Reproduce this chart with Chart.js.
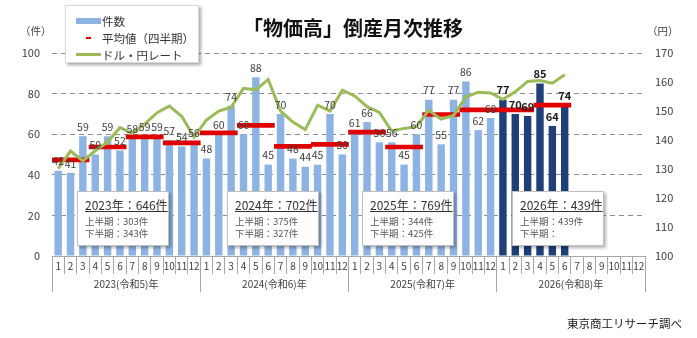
<!DOCTYPE html>
<html><head><meta charset="utf-8">
<script src="https://cdn.jsdelivr.net/npm/chart.js@4.4.1/dist/chart.umd.min.js"></script>
<style>
body{margin:0;background:#fff;font-family:"Noto Sans CJK JP","Noto Sans",sans-serif;color:#333;}
#wrap{position:relative;width:697px;height:338px;overflow:hidden;}
#c{position:absolute;left:0;top:0;}
.ttl{position:absolute;left:243px;top:16px;font-size:20px;font-weight:bold;color:#111;white-space:nowrap;line-height:24px;}
.unit{position:absolute;top:23px;font-size:10.5px;color:#404040;line-height:16px;}
.lg{position:absolute;left:65px;top:5px;width:132px;height:56px;background:#fff;border:1px solid #d9d9d9;box-shadow:2px 2px 3px rgba(0,0,0,.35);font-size:11.5px;color:#333;}
.lg div{position:absolute;left:36px;line-height:16px;white-space:nowrap;}
.lg i{position:absolute;display:block;}
.box{position:absolute;top:191px;width:90px;height:53px;background:#fff;border:1px solid #bfbfbf;box-shadow:2px 2px 3px rgba(0,0,0,.3);}
.box .t{position:absolute;left:7px;top:5px;font-size:12px;text-decoration:underline;color:#333;white-space:nowrap;line-height:16px;}
.box .s{position:absolute;left:7px;font-size:9.5px;color:#595959;white-space:nowrap;line-height:12px;}
.src{position:absolute;left:567px;top:315px;font-size:11.5px;color:#222;white-space:nowrap;line-height:16px;}
</style></head><body>
<div id="wrap">
<canvas id="c" width="697" height="338"></canvas>
<div class="ttl">「物価高」倒産月次推移</div>
<div class="unit" style="left:20px">（件）</div>
<div class="unit" style="left:647px">（円）</div>
<div class="lg">
  <i style="left:10px;top:12px;width:25px;height:6px;background:#8db3e2"></i><div style="top:7px">件数</div>
  <i style="left:20px;top:31px;width:5px;height:2px;background:#e00000"></i><div style="top:24px">平均値（四半期）</div>
  <i style="left:10px;top:47px;width:25px;height:3px;background:#9bbb59"></i><div style="top:41px">ドル・円レート</div>
</div>
<div id="boxes"></div>
<div class="src">東京商工リサーチ調べ</div>
</div>
<script>
// months / years on the category axes
const monthTicks=['1','2','3','4','5','6','7','8','9','10','11','12'];
const yearTicks=['2023(令和5)年','2024(令和6)年','2025(令和7)年','2026(令和8)年'];
const leftTicks=[0,20,40,60,80,100];
const rightTicks=[100,110,120,130,140,150,160,170];

// monthly bankruptcies 2023/1 - 2026/6
const counts=[42,41,59,50,59,52,58,59,59,57,54,56,
              48,60,74,60,88,45,70,48,44,45,70,50,
              61,66,56,56,45,60,77,55,77,86,62,68,
              77,70,69,85,64,74];
// quarterly average (red bars)
const quarterAvg=[47.3,53.7,58.7,55.7, 60.7,64.3,54.0,55.0, 61.0,53.7,69.7,72.0, 72.0,74.3];
// USD/JPY (right axis)
const usdJpy=[130.1,136.2,132.8,136.3,139.3,144.3,142.3,145.5,149.4,151.7,148.2,141.0,
              146.9,150.0,151.3,157.8,157.3,160.9,150.0,146.2,143.6,152.0,150.0,157.2,
              155.2,151.5,149.5,143.1,144.0,144.6,150.2,147.2,148.5,154.8,156.5,156.2,
              154.0,156.6,160.2,160.5,159.6,162.5];

// yearly summary boxes
const yearNames=['2023','2024','2025','2026'];
const yearTotals=[646,702,769,439];
const firstHalf=[303,375,344,439];
const secondHalf=[343,327,425,null];
const boxLeft=[77,227,362,512];

const labels=yearTicks.flatMap(()=>monthTicks);
const quarterLabels=yearTicks.flatMap(y=>['Q1','Q2','Q3','Q4'].map(q=>y+q));
const LIGHT='#8db3e2', DARK='#1f3f78';
const FONT='"Noto Sans CJK JP","Noto Sans",sans-serif';

const barLabels={
  id:'barLabels',
  afterDatasetsDraw(chart){
    const meta=chart.getDatasetMeta(0), ctx=chart.ctx;
    ctx.save();
    ctx.textAlign='center'; ctx.textBaseline='bottom';
    meta.data.forEach((el,i)=>{
      const v=counts[i]; if(v==null) return;
      const cur=i>=36;
      ctx.font=(cur?'bold 11px ':'10.5px ')+FONT;
      ctx.fillStyle=cur?'#1a1a1a':'#404040';
      ctx.fillText(String(v),el.x,el.y-4);
    });
    ctx.restore();
  }
};

// month labels sit between the separators, years below them
const axisText={
  id:'axisText',
  afterDraw(chart){
    const ctx=chart.ctx, x=chart.scales.x, xy=chart.scales.xy;
    ctx.save();
    ctx.fillStyle='#404040'; ctx.textAlign='center'; ctx.textBaseline='middle';
    ctx.font='10px '+FONT;
    labels.forEach((l,i)=>ctx.fillText(l,x.getPixelForValue(i),x.top+10));
    yearTicks.forEach((l,i)=>ctx.fillText(l,xy.getPixelForValue(i),xy.top+11));
    ctx.restore();
  }
};

new Chart(document.getElementById('c'),{
  data:{
    labels,
    datasets:[
      {type:'bar',label:'件数',data:labels.map((_,i)=>counts[i]??null),
       backgroundColor:labels.map((_,i)=>i>=36?DARK:LIGHT),
       barPercentage:0.6,categoryPercentage:1,grouped:false,order:3,xAxisID:'x',yAxisID:'y'},
      {type:'bar',label:'平均値（四半期）',data:quarterLabels.map((_,i)=>quarterAvg[i]==null?null:[quarterAvg[i]-1,quarterAvg[i]+1]),
       backgroundColor:'#e00000',barPercentage:1,categoryPercentage:1,grouped:false,order:2,xAxisID:'xq',yAxisID:'y'},
      {type:'line',label:'ドル・円レート',data:labels.map((_,i)=>usdJpy[i]??null),
       borderColor:'#9bbb59',borderWidth:3,pointRadius:0,tension:0,order:1,xAxisID:'x',yAxisID:'y1'}
    ]
  },
  options:{
    responsive:false,animation:false,
    layout:{padding:{top:53,bottom:46,left:0,right:0}},
    plugins:{legend:{display:false},tooltip:{enabled:false}},
    scales:{
      x:{type:'category',position:'bottom',weight:0,offset:true,
         grid:{drawOnChartArea:false,offset:true,tickLength:18,color:'#a6a6a6',lineWidth:1},
         border:{display:true,color:'#a6a6a6'},
         ticks:{display:false},
         afterFit(s){s.height=17;}},
      xy:{type:'category',position:'bottom',weight:1,offset:true,labels:yearTicks,
         grid:{drawOnChartArea:false,offset:true,tickLength:19,color:'#a6a6a6',lineWidth:1},
         border:{display:false},
         ticks:{display:false},
         afterFit(s){s.height=19;}},
      xq:{type:'category',labels:quarterLabels,offset:true,display:false},
      y:{position:'left',min:leftTicks[0],max:leftTicks[leftTicks.length-1],
         afterBuildTicks(s){s.ticks=leftTicks.map(v=>({value:v}));},
         afterFit(s){s.width=52;},
         grid:{color:c=>c.tick&&c.tick.value===0?'rgba(0,0,0,0)':'#8c8c8c',drawTicks:false,lineWidth:1},
         border:{display:false,dash:[5,4]},
         ticks:{font:{family:FONT,size:11},color:'#404040',padding:12}},
      y1:{position:'right',min:rightTicks[0],max:rightTicks[rightTicks.length-1],
         afterBuildTicks(s){s.ticks=rightTicks.map(v=>({value:v}));},
         afterFit(s){s.width=52;},
         grid:{drawOnChartArea:false,drawTicks:false},
         border:{display:false},
         ticks:{font:{family:FONT,size:11},color:'#404040',padding:10}}
    }
  },
  plugins:[barLabels,axisText]
});

// yearly summary boxes
const bx=document.getElementById('boxes');
yearNames.forEach((y,i)=>{
  const d=document.createElement('div');
  d.className='box'; d.style.left=boxLeft[i]+'px';
  d.innerHTML=`<div class="t">${y}年：${yearTotals[i]}件</div>
    <div class="s" style="top:23px">上半期：${firstHalf[i]!=null?firstHalf[i]+'件':''}</div>
    <div class="s" style="top:35px">下半期：${secondHalf[i]!=null?secondHalf[i]+'件':''}</div>`;
  bx.appendChild(d);
});
</script>
</body></html>
